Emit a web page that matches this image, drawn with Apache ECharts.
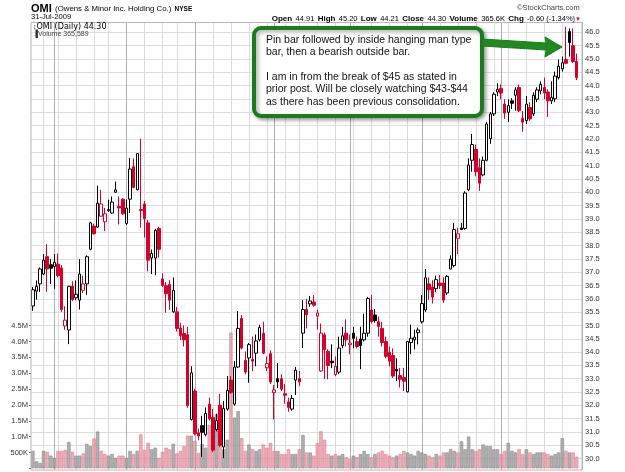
<!DOCTYPE html>
<html>
<head>
<meta charset="utf-8">
<script src="https://cdn.jsdelivr.net/npm/echarts@6/dist/echarts.min.js"></script>
<style>
html,body{margin:0;padding:0;background:#fff;}
#chart{width:625px;height:472px;}
</style>
</head>
<body>
<div id="chart"></div>
<script>
// trading days, month by month
var months = ['2008-12','2009-01','2009-02','2009-03','2009-04','2009-05','2009-06','2009-07'];
var monthDays = [
  [23,24,26,29,30,31],
  [2,5,6,7,8,9,12,13,14,15,16,20,21,22,23,26,27,28,29,30],
  [2,3,4,5,6,9,10,11,12,13,17,18,19,20,23,24,25,26,27],
  [2,3,4,5,6,9,10,11,12,13,16,17,18,19,20,23,24,25,26,27,30,31],
  [1,2,3,6,7,8,9,13,14,15,16,17,20,21,22,23,24,27,28,29,30],
  [1,4,5,6,7,8,11,12,13,14,15,18,19,20,21,22,26,27,28,29],
  [1,2,3,4,5,8,9,10,11,12,15,16,17,18,19,22,23,24,25,26,29,30],
  [1,2,6,7,8,9,10,13,14,15,16,17,20,21,22,23,24,27,28,29,30,31]
];

var opens = [35.73,36.29,36.56,36.93,37.58,37.28,37.21,37.30,37.16,34.98,34.83,36.47,36.04,35.95,36.32,36.56,37.86,38.73,38.69,39.10,
  38.89,39.31,39.22,40.00,39.47,39.74,38.83,39.74,40.96,40.09,39.35,39.56,38.85,37.53,37.53,38.64,36.75,36.49,36.54,35.51,
  35.51,34.90,34.70,34.65,31.47,32.54,30.97,31.24,30.90,32.05,31.55,31.09,32.01,30.44,31.86,32.95,32.05,33.44,35.26,33.69,
  33.78,33.73,33.96,34.46,34.71,33.41,33.94,32.48,33.00,33.00,32.44,32.13,31.86,32.95,33.01,34.71,35.60,35.81,35.88,35.35,
  33.29,34.65,34.03,33.66,33.16,33.25,34.24,34.71,34.28,34.71,34.40,34.49,34.46,34.71,35.58,35.39,35.14,34.89,34.40,33.99,
  33.87,33.35,33.12,33.04,32.51,34.36,34.46,34.73,35.14,35.58,36.56,36.44,36.38,36.59,36.59,36.22,37.12,37.25,38.27,38.66,
  38.64,40.09,41.20,41.61,40.92,40.65,41.20,42.01,42.94,43.76,43.89,43.31,43.00,43.43,43.64,43.93,42.78,42.69,43.18,42.94,
  43.49,43.80,43.93,43.76,43.43,43.51,44.30,44.63,44.98,46.03,45.50,44.91];
var highs = [36.44,36.69,37.18,37.68,38.05,37.49,37.68,37.70,37.26,35.72,36.48,36.66,36.69,37.49,36.87,37.63,38.89,38.82,40.25,40.09,
  39.41,39.72,39.84,40.40,39.84,39.78,39.72,41.29,41.27,41.45,42.01,39.67,38.96,37.85,38.63,38.70,36.96,36.63,36.70,36.80,
  35.70,35.10,35.00,34.95,33.47,32.62,31.13,31.61,31.92,32.29,31.87,31.69,32.43,32.17,33.10,33.10,33.66,35.54,35.40,34.03,
  34.34,34.58,34.66,35.03,35.14,33.84,34.07,32.77,33.59,33.17,32.80,32.29,32.39,33.44,33.29,35.95,36.00,36.10,36.14,35.59,
  35.07,34.73,34.10,34.29,33.84,34.58,34.95,35.23,34.66,34.95,34.58,34.95,35.44,36.07,36.15,35.62,35.33,35.14,34.58,34.21,
  34.14,33.77,33.41,33.41,34.40,35.03,34.84,34.92,36.14,37.12,36.81,36.70,36.87,36.89,36.81,36.89,37.63,38.85,38.67,38.85,
  40.04,41.27,42.19,41.79,41.27,41.34,42.64,43.01,43.75,44.09,44.05,43.49,43.49,43.53,43.94,44.05,43.05,43.61,43.38,43.75,
  43.94,44.16,44.30,43.86,44.16,44.53,44.98,45.09,46.21,46.15,46.15,45.20];
var lows = [35.55,35.97,36.26,36.89,36.26,36.56,36.38,36.81,35.51,34.84,34.30,35.92,35.95,35.60,36.22,36.15,37.82,38.41,38.67,39.08,
  38.54,39.26,39.19,39.97,38.79,39.15,38.77,39.22,40.15,40.08,38.67,38.30,37.03,36.93,36.89,37.55,36.44,35.48,35.59,35.48,
  34.77,34.45,34.21,31.91,31.43,30.87,30.69,30.07,30.84,31.43,30.24,31.02,30.43,30.02,31.80,32.43,31.99,33.40,34.10,33.17,
  32.85,33.29,33.47,34.40,33.92,33.29,32.80,31.47,32.65,32.54,32.06,31.76,31.80,32.39,32.73,34.15,34.89,35.70,35.70,34.84,
  33.25,32.99,32.98,33.40,33.10,33.17,34.14,34.21,33.92,34.14,34.14,33.36,34.40,34.58,35.07,35.10,34.58,34.21,33.77,33.47,
  33.03,32.91,32.67,32.54,32.48,33.92,34.10,34.29,35.07,35.51,35.96,35.82,36.25,36.37,35.85,36.14,37.11,37.18,37.68,38.59,
  38.59,40.04,40.77,40.60,40.05,40.60,41.16,41.82,42.86,43.61,43.49,42.75,42.64,43.12,43.06,43.01,42.27,42.56,42.68,42.86,
  43.38,43.68,43.49,42.82,43.31,43.38,44.23,44.53,44.80,45.09,44.85,44.21];
var closes = [36.34,36.47,37.12,37.45,37.12,37.15,37.37,36.87,35.60,35.20,36.47,35.97,36.17,36.93,36.56,37.58,38.85,38.44,39.59,39.56,
  39.19,39.35,39.63,40.09,39.41,39.19,39.41,40.87,40.18,41.45,39.31,39.01,37.45,37.70,38.57,37.86,36.50,36.19,35.95,36.32,
  34.89,34.62,34.46,31.99,33.22,30.94,30.85,30.99,31.70,31.49,30.32,31.43,30.50,31.89,32.56,32.48,33.44,34.89,34.15,33.25,
  34.28,33.66,34.42,34.92,33.96,33.57,32.88,32.58,32.88,32.61,32.38,31.92,32.26,33.32,32.88,35.60,35.41,35.92,35.76,35.47,
  34.71,34.09,33.50,33.60,33.47,34.15,34.61,34.46,34.34,34.52,34.21,34.25,34.71,36.01,35.14,35.18,34.96,34.36,33.84,33.66,
  33.10,33.29,32.98,32.91,34.40,34.52,34.56,34.83,35.82,36.79,36.34,36.07,36.72,36.50,35.95,36.84,37.49,38.60,38.44,38.60,
  39.97,41.02,41.79,40.77,40.34,41.20,42.56,42.94,43.68,43.86,43.72,42.97,43.25,43.34,43.84,43.06,42.63,43.31,42.75,43.64,
  43.84,44.05,43.72,43.43,43.56,44.36,44.73,44.86,44.84,45.62,44.90,44.30];
// volume in millions of shares
var volumes = [0.55,0.22,0.17,0.55,0.52,0.40,0.33,0.55,0.55,0.58,0.83,0.52,0.40,0.40,0.47,0.77,0.70,0.94,1.16,0.55,
  0.45,0.40,0.45,0.33,0.40,0.40,0.33,0.55,0.45,0.55,1.07,0.58,0.80,0.60,0.65,0.33,0.52,0.65,0.60,0.77,
  0.47,0.55,0.70,1.03,1.03,0.87,0.48,0.77,0.65,1.37,0.60,1.70,0.70,0.60,0.90,4.28,1.60,1.80,0.95,0.55,
  0.75,0.60,0.55,0.60,0.75,0.65,0.80,0.55,0.55,0.45,0.45,0.60,0.45,0.45,0.60,1.05,0.50,0.50,0.40,0.80,
  1.17,0.90,0.45,0.40,0.45,0.40,0.45,0.35,0.30,0.40,0.35,0.45,0.55,0.45,0.35,0.45,0.50,0.55,0.45,0.40,
  0.35,0.40,0.45,0.55,0.50,0.45,0.40,0.55,0.50,0.45,0.40,0.35,0.45,0.40,0.50,0.50,0.60,0.55,0.50,0.85,
  0.60,1.00,0.60,0.55,0.60,0.75,0.70,0.70,0.60,0.60,0.45,0.55,0.80,0.55,0.50,0.60,0.45,0.60,0.50,0.45,
  0.50,0.50,0.50,0.45,0.40,0.45,0.50,0.95,0.55,0.50,0.50,0.366];

var BLACK = '#000000', RED = '#d7002a';

var dates = [];
months.forEach(function (m, k) {
  monthDays[k].forEach(function (d) { dates.push(m + '-' + (d < 10 ? '0' + d : d)); });
});
var cats = dates.concat(['']); // empty slot on the right like the original

var candleData = [], volData = [], gridLines = [];
dates.forEach(function (d, i) {
  var down = i > 0 && closes[i] < closes[i - 1];
  var col = down ? RED : BLACK;
  var hollow = closes[i] > opens[i];
  candleData.push({
    value: [opens[i], closes[i], lows[i], highs[i]],
    itemStyle: { color: hollow ? '#fff' : col, color0: col, borderColor: col, borderColor0: col }
  });
  volData.push({
    value: volumes[i],
    itemStyle: down ? { color: 'rgba(225,125,142,0.62)', borderColor: '#de8495' }
                    : { color: 'rgba(150,150,150,0.75)', borderColor: '#8a8a8a' }
  });
  if (i > 0) {
    var t = new Date(d + 'T00:00:00Z'), p = new Date(dates[i - 1] + 'T00:00:00Z');
    var newWeek = t.getUTCDay() < p.getUTCDay() || (t - p) > 4 * 86400000;
    var newMonth = d.slice(0, 7) !== dates[i - 1].slice(0, 7);
    if (newWeek || newMonth) {
      gridLines.push({ xAxis: d, lineStyle: { color: newMonth ? '#b0b0b0' : '#dcdcdc' } });
    }
  }
});

var chart = echarts.init(document.getElementById('chart'));
var txt = '"Liberation Sans", Arial, sans-serif';

chart.setOption({
  animation: false,
  backgroundColor: '#fff',
  grid: [
    { left: 31, right: 42.9, top: 19.05, bottom: -4.97 },
    { left: 31, right: 42.9, top: 325.7, bottom: 3.7 }
  ],
  xAxis: [
    { type: 'category', gridIndex: 0, data: cats, boundaryGap: true,
      axisLine: { show: false }, axisTick: { show: false }, axisLabel: { show: false }, splitLine: { show: false } },
    { type: 'category', gridIndex: 1, data: cats, boundaryGap: true,
      axisLine: { show: false }, axisTick: { show: false }, axisLabel: { show: false }, splitLine: { show: false } }
  ],
  yAxis: [
    { type: 'value', gridIndex: 0, position: 'right', min: 29.5, max: 46.5, interval: 0.5,
      axisLine: { show: true, lineStyle: { color: '#999', type: 'dotted' } },
      axisTick: { show: false },
      axisLabel: { fontSize: 7.5, color: '#333', fontFamily: txt, margin: 3,
        formatter: function (v) { return (v < 30 || v > 46) ? '' : v.toFixed(1); } },
      splitLine: { show: true, lineStyle: { color: '#dedede', width: 1, type: 'solid' } } },
    { type: 'value', gridIndex: 1, position: 'left', min: 0, max: 4.5, interval: 0.5,
      axisLine: { show: false },
      axisTick: { show: true, length: 2, lineStyle: { color: '#555' } },
      axisLabel: { fontSize: 7.5, color: '#333', fontFamily: txt, margin: 3,
        formatter: function (v) { return v === 0 ? '' : (v === 0.5 ? '500K' : v.toFixed(1) + 'M'); } },
      splitLine: { show: false } }
  ],
  series: [
    { name: 'Volume', type: 'bar', xAxisIndex: 1, yAxisIndex: 1, data: volData,
      barCategoryGap: '6%', itemStyle: { borderWidth: 0.6 } },
    { name: 'OMI', type: 'candlestick', xAxisIndex: 0, yAxisIndex: 0, data: candleData,
      barWidth: 3, itemStyle: { borderWidth: 1 },
      markLine: { z: 0, silent: true, symbol: ['none', 'none'], label: { show: false },
        lineStyle: { type: 'solid', width: 1 }, data: gridLines } }
  ],
  graphic: [
    { type: 'rect', z: 100, silent: true, shape: { x: 0, y: 0, width: 625, height: 22 }, style: { fill: '#fff' } },
    { type: 'rect', z: 100, silent: true, shape: { x: 0, y: 470, width: 625, height: 2 }, style: { fill: '#fff' } },
    { type: 'rect', z: 101, silent: true, shape: { x: 31, y: 22.5, width: 551, height: 447.5 },
      style: { fill: 'none', stroke: '#b8b8b8', lineWidth: 1 } },
    { type: 'text', z: 102, left: 31, top: 3, style: {
        text: '{t|OMI} {n|(Owens & Minor Inc. Holding Co.)} {x|NYSE}',
        rich: { t: { font: 'bold 11px ' + txt, fill: '#000' },
                n: { font: '7.8px ' + txt, fill: '#000' },
                x: { font: 'bold 6.5px ' + txt, fill: '#000' } } } },
    { type: 'text', z: 102, left: 31, top: 12.5, style: { text: '31-Jul-2009', font: '7.6px ' + txt, fill: '#000' } },
    { type: 'text', z: 102, left: 517, top: 4, style: { text: '\u00a9StockCharts.com', font: '7.5px ' + txt, fill: '#444' } },
    { type: 'text', z: 102, right: 44, top: 13, style: {
        text: '{b|Open} {v|44.91} {b|High} {v|45.20} {b|Low} {v|44.21} {b|Close} {v|44.30} {b|Volume} {v|365.6K} {b|Chg} {v|-0.60 (-1.34%)}{r|\u25bc}',
        rich: { b: { font: 'bold 8px ' + txt, fill: '#000' }, v: { font: '7.5px ' + txt, fill: '#000' },
                r: { font: '6px ' + txt, fill: RED } } } },
    { type: 'text', z: 102, left: 33, top: 23, style: {
        text: '{i|\u2195}{a|OMI (Daily) 44.30}\n{i|\u2590}{s|Volume 365,589}',
        rich: { i: { font: '7px ' + txt, fill: '#333' }, a: { font: '8px "DejaVu Sans", sans-serif', fill: '#000' },
                s: { font: '7px ' + txt, fill: '#444' } } } },
    { type: 'rect', z: 110, silent: true, shape: { x: 254, y: 28, width: 228, height: 88, r: 7 },
      style: { fill: '#fff', stroke: '#1f7a1f', lineWidth: 4, shadowBlur: 4, shadowColor: 'rgba(0,0,0,0.35)', shadowOffsetX: 2, shadowOffsetY: 2 } },
    { type: 'text', z: 111, left: 266, top: 34, style: {
        text: 'Pin bar followed by inside hanging man type\nbar, then a bearish outside bar.\n\nI am in from the break of $45 as stated in\nprior post. Will be closely watching $43-$44\nas there has been previous consolidation.',
        font: '10.5px ' + txt, fill: '#111', lineHeight: 12.3 } },
    { type: 'polygon', z: 110, silent: true, shape: { points: [[482, 39], [546, 43], [545, 37], [562, 47], [545, 57], [546, 50], [482, 46]] },
      style: { fill: '#1f8a1f', stroke: '#1f7a1f', lineWidth: 1 } }
  ]
});
</script>
</body>
</html>
